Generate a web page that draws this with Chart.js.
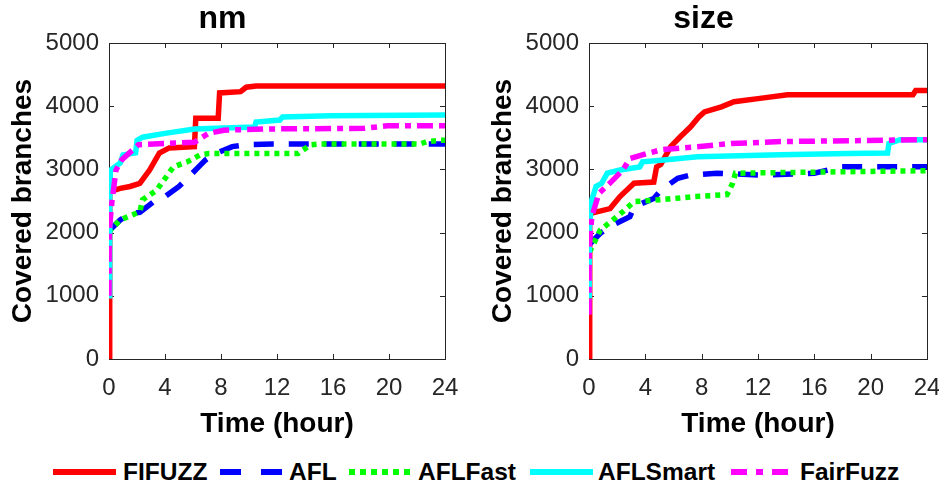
<!DOCTYPE html>
<html><head><meta charset="utf-8">
<script src="https://cdn.jsdelivr.net/npm/chart.js@4/dist/chart.umd.min.js"></script>
<style>
html,body{margin:0;padding:0;background:#fff;width:939px;height:482px;overflow:hidden;font-family:"Liberation Sans",Arial,sans-serif;}
#c1{position:absolute;left:0;top:0;}
#c2{position:absolute;left:480px;top:0;}
#legend{position:absolute;left:0;top:454px;width:939px;height:36px;}
.sw{position:absolute;top:13px;}
.lt{position:absolute;top:0;height:36px;line-height:36px;font-weight:bold;font-size:24.5px;color:#000;white-space:nowrap;}
</style></head>
<body>
<canvas id="c1" width="460" height="441"></canvas>
<canvas id="c2" width="459" height="441"></canvas>
<div id="legend"></div>
<script>
// ---- data ----
const seriesNames = ["FIFUZZ","AFL","AFLFast","AFLSmart","FairFuzz"];
const xTicks = [0,4,8,12,16,20,24];
const yTicks = [0,1000,2000,3000,4000,5000];
const panelTitles = ["nm","size"];

// nm panel
const nmFIFUZZ_t = [0,0.05,0.8,1.5,2.2,2.9,3.6,4.3,6.1,6.2,7.8,7.9,9.4,9.8,10.5,24];
const nmFIFUZZ_v = [0,2650,2700,2730,2780,2990,3260,3340,3360,3810,3810,4210,4230,4300,4320,4320];
const nmAFL_t = [0,0.1,0.8,1.5,2.2,3.2,4.0,5.0,5.7,6.4,6.9,7.4,8.8,9.8,11.7,24];
const nmAFL_v = [2000,2050,2200,2300,2320,2490,2570,2730,2880,3040,3150,3230,3360,3390,3400,3400];
const nmAFLFast_t = [0,0.1,0.8,2.2,2.4,3.4,4.6,5.6,6.5,7.1,13.5,14.4,14.9,22.2,22.7,23.7,24];
const nmAFLFast_v = [2000,2040,2200,2330,2520,2670,3040,3120,3230,3250,3250,3390,3400,3400,3440,3460,3460];
const nmAFLSmart_t = [0,0.05,0.1,0.8,1.0,1.9,2.0,2.4,4.0,6.1,10.4,10.5,12.2,12.4,15.8,24];
const nmAFLSmart_v = [1000,2500,2990,3100,3230,3260,3460,3510,3570,3640,3670,3750,3780,3830,3850,3860];
const nmFairFuzz_t = [0,0.02,0.2,0.5,0.9,2.1,4.0,6.1,7.1,8.2,11.1,18.2,19.9,24];
const nmFairFuzz_v = [1000,2040,2470,2990,3150,3390,3410,3430,3570,3620,3640,3650,3690,3690];

// size panel
const sizeFIFUZZ_t = [0,0.05,1.5,2.2,3.2,4.6,4.8,5.1,5.8,6.5,7.2,7.8,8.2,9.4,10.3,12.0,14.1,23.0,23.2,24];
const sizeFIFUZZ_v = [0,2300,2380,2570,2780,2800,3040,3080,3360,3520,3670,3830,3910,3990,4070,4120,4180,4180,4250,4250];
const sizeAFL_t = [0,0.1,0.8,1.5,2.9,3.2,4.6,5.1,6.3,7.2,9.1,12.2,16.0,17.9,24];
const sizeAFL_v = [1800,1830,1990,2100,2250,2410,2540,2670,2860,2910,2940,2910,2940,3040,3040];
const sizeAFLFast_t = [0,0.1,0.8,1.7,2.4,3.2,5.1,7.5,9.8,10.2,10.4,24];
const sizeAFLFast_v = [1700,1720,2040,2200,2330,2490,2520,2570,2600,2780,2940,2980];
const sizeAFLSmart_t = [0,0.02,0.2,0.5,0.9,1.3,2.2,3.6,3.8,5.3,7.7,13.6,18.4,21.2,21.3,22.1,24];
const sizeAFLSmart_v = [1000,2040,2520,2730,2780,2940,2990,3040,3120,3150,3200,3230,3250,3260,3410,3470,3470];
const sizeFairFuzz_t = [0,0.02,0.2,0.7,1.7,2.4,2.9,4.1,5.1,7.7,10.1,13.6,24];
const sizeFairFuzz_v = [700,1780,2250,2620,2830,2990,3170,3250,3310,3360,3410,3440,3470];

// ---- styles ----
const colors = {FIFUZZ:"#FF0000",AFL:"#0000FF",AFLFast:"#00FF00",AFLSmart:"#00FFFF",FairFuzz:"#FF00FF"};
const dashes = {FIFUZZ:[],AFL:[20,15],AFLFast:[5,5],AFLSmart:[],FairFuzz:[16,6,6,6]};
const legendDash = {FIFUZZ:"",AFL:"21,20",AFLFast:"6,5",AFLSmart:"",FairFuzz:"16,9,7,9"};
const FONT = '"Liberation Sans", Arial, sans-serif';
const AX = "#262626";

function pts(t,v){return t.map((x,i)=>({x:x,y:v[i]}));}

const panels = [
  {FIFUZZ:[nmFIFUZZ_t,nmFIFUZZ_v],AFL:[nmAFL_t,nmAFL_v],AFLFast:[nmAFLFast_t,nmAFLFast_v],AFLSmart:[nmAFLSmart_t,nmAFLSmart_v],FairFuzz:[nmFairFuzz_t,nmFairFuzz_v]},
  {FIFUZZ:[sizeFIFUZZ_t,sizeFIFUZZ_v],AFL:[sizeAFL_t,sizeAFL_v],AFLFast:[sizeAFLFast_t,sizeAFLFast_v],AFLSmart:[sizeAFLSmart_t,sizeAFLSmart_v],FairFuzz:[sizeFairFuzz_t,sizeFairFuzz_v]}
];

const boxPlugin = {
  id:'box',
  beforeDatasetsDraw(chart){
    const {ctx,chartArea:a,scales} = chart;
    ctx.save();
    ctx.strokeStyle = AX; ctx.lineWidth = 1;
    ctx.strokeRect(Math.round(a.left)+0.5, Math.round(a.top)+0.5, Math.round(a.right-a.left), Math.round(a.bottom-a.top));
    const L=5;
    ctx.beginPath();
    xTicks.forEach(v=>{
      const x=Math.round(scales.x.getPixelForValue(v))+0.5;
      ctx.moveTo(x,a.bottom); ctx.lineTo(x,a.bottom-L);
      ctx.moveTo(x,a.top); ctx.lineTo(x,a.top+L);
    });
    yTicks.forEach(v=>{
      const y=Math.round(scales.y.getPixelForValue(v))+0.5;
      ctx.moveTo(a.left,y); ctx.lineTo(a.left+L,y);
      ctx.moveTo(a.right,y); ctx.lineTo(a.right-L,y);
    });
    ctx.stroke();
    ctx.restore();
  }
};

function makeChart(id, p, title, padRight){
  const order = {FIFUZZ:4,AFL:3,AFLFast:2,AFLSmart:1,FairFuzz:0};
  const ds = seriesNames.map(n=>({
    label:n, data:pts(p[n][0],p[n][1]),
    borderColor:colors[n], backgroundColor:colors[n],
    borderWidth:5.5, borderDash:dashes[n], pointRadius:0, tension:0, fill:false,
    order:order[n], borderCapStyle:'butt', borderJoinStyle:'miter'
  }));
  return new Chart(document.getElementById(id),{
    type:'line',
    data:{datasets:ds},
    plugins:[boxPlugin],
    options:{
      responsive:false, animation:false, events:[],
      layout:{padding:{left:0,right:padRight,top:0,bottom:0}},
      plugins:{
        legend:{display:false}, tooltip:{enabled:false},
        title:{display:true,text:title,color:"#000",font:{family:FONT,size:32,weight:'bold'},padding:{top:0,bottom:4.6}}
      },
      scales:{
        x:{type:'linear',min:0,max:24,
          afterBuildTicks(s){s.ticks=xTicks.map(v=>({value:v}));},
          afterFit(s){s.height=82; s.paddingLeft=0; s.paddingRight=0;},
          grid:{display:false,drawTicks:false},border:{display:false},
          ticks:{color:AX,font:{family:FONT,size:24},padding:15,maxRotation:0,autoSkip:false,callback:v=>String(v)},
          title:{display:true,text:"Time (hour)",color:"#000",font:{family:FONT,size:28,weight:'bold'},padding:{top:0,bottom:0}}
        },
        y:{type:'linear',min:0,max:5000,
          afterBuildTicks(s){s.ticks=yTicks.map(v=>({value:v}));},
          afterFit(s){s.width=109; s.paddingTop=0; s.paddingBottom=0;},
          grid:{display:false,drawTicks:false},border:{display:false},
          ticks:{color:AX,font:{family:FONT,size:24},padding:10,autoSkip:false,callback:v=>String(v)},
          title:{display:true,text:"Covered branches",color:"#000",font:{family:FONT,size:28,weight:'bold'},padding:{top:6,bottom:0}}
        }
      }
    }
  });
}
makeChart('c1', panels[0], panelTitles[0], 15);
makeChart('c2', panels[1], panelTitles[1], 12);

// ---- legend ----
const swatchX = {FIFUZZ:53,AFL:220,AFLFast:349,AFLSmart:530,FairFuzz:731};
const textX = {FIFUZZ:123,AFL:289,AFLFast:418,AFLSmart:598,FairFuzz:800};
const leg = document.getElementById('legend');
seriesNames.forEach(n=>{
  const w=63;
  const s=document.createElement('div'); s.className='sw'; s.style.left=swatchX[n]+'px';
  const da = legendDash[n] ? ` stroke-dasharray="${legendDash[n]}"` : '';
  s.innerHTML=`<svg width="${w}" height="10" style="display:block"><line x1="0" y1="5" x2="${w}" y2="5" stroke="${colors[n]}" stroke-width="6"${da}/></svg>`;
  leg.appendChild(s);
  const t=document.createElement('div'); t.className='lt'; t.style.left=textX[n]+'px'; t.textContent=n;
  leg.appendChild(t);
});
</script>
</body></html>
